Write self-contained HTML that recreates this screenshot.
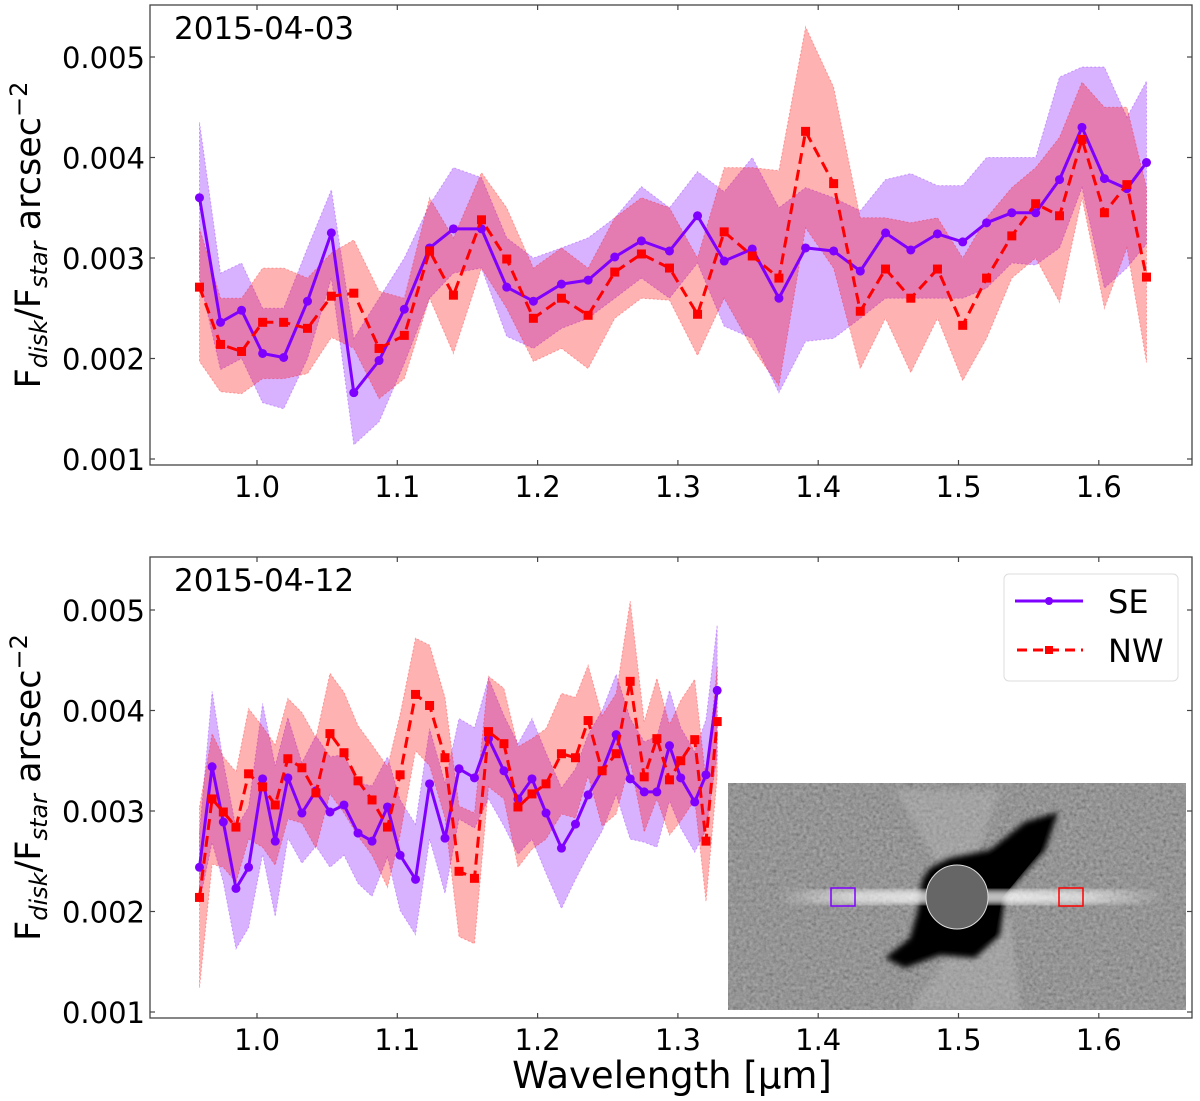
<!DOCTYPE html>
<html><head><meta charset="utf-8"><style>
html,body{margin:0;padding:0;background:#fff;}
svg{display:block;font-family:"DejaVu Sans","Liberation Sans",sans-serif;}
</style></head><body>
<svg id="chart" width="1200" height="1101" viewBox="0 0 1200 1101" xmlns="http://www.w3.org/2000/svg">
<defs>
<filter id="noise" x="0" y="0" width="100%" height="100%">
<feTurbulence type="fractalNoise" baseFrequency="0.3" numOctaves="2" seed="4"/>
<feColorMatrix type="matrix" values="0.33 0.33 0.33 0 0  0.33 0.33 0.33 0 0  0.33 0.33 0.33 0 0  0 0 0 0 0.6"/>
</filter>
<filter id="blur"><feGaussianBlur stdDeviation="3"/></filter>
<linearGradient id="streak" x1="0" x2="1" y1="0" y2="0">
<stop offset="0" stop-color="#fff" stop-opacity="0"/>
<stop offset="0.2" stop-color="#fff" stop-opacity="0.6"/>
<stop offset="0.4" stop-color="#fff" stop-opacity="0.75"/>
<stop offset="0.6" stop-color="#fff" stop-opacity="0.75"/>
<stop offset="0.8" stop-color="#fff" stop-opacity="0.6"/>
<stop offset="1" stop-color="#fff" stop-opacity="0"/>
</linearGradient>
<clipPath id="insetClip"><rect x="728" y="783" width="458" height="227"/></clipPath>
</defs>
<g id="plots"></g>
<g id="inset" clip-path="url(#insetClip)">
<rect x="728" y="783" width="458" height="227" fill="#5a5a5a"/>
<rect x="728" y="783" width="458" height="227" fill="#888" filter="url(#noise)"/>
<polygon points="895,790 1000,790 975,860 935,860" fill="#c0c0c0" opacity="0.35" filter="url(#blur)"/>
<polygon points="965,930 1010,915 1020,1010 910,1010" fill="#c0c0c0" opacity="0.35" filter="url(#blur)"/>
<polygon points="930,868 950,858 990,850 1025,822 1058,812 1045,850 1005,895 1000,935 975,958 940,955 905,968 885,958 910,938 918,910 922,880" fill="#050505" filter="url(#blur)"/>
<polygon points="935,870 990,855 1030,828 1050,820 1040,852 1002,898 995,935 972,952 940,950 912,960 918,935 925,905" fill="#000"/>
<rect x="775" y="890" width="390" height="14" fill="url(#streak)" filter="url(#blur)"/>
<ellipse cx="957" cy="897" rx="31" ry="32" fill="#666" stroke="#ddd" stroke-width="1"/>
<rect x="831" y="888" width="24" height="18" fill="none" stroke="#7f00ff" stroke-width="1.5"/>
<rect x="1059" y="888" width="24" height="18" fill="none" stroke="#ff0000" stroke-width="1.5"/>
</g>
<g id="legend">
<rect x="1004" y="574" width="174" height="107" rx="5" fill="#fff" stroke="#ddd" stroke-width="1"/>
<g>
<line x1="1015" y1="601" x2="1083" y2="601" stroke="#7f00ff" stroke-width="3"/>
<circle cx="1049" cy="601" r="4" fill="#7f00ff"/>
<text x="1108" y="613" font-size="32">SE</text>
</g>
<g>
<line x1="1017" y1="650" x2="1083" y2="650" stroke="#ff0000" stroke-width="3" stroke-dasharray="10,6"/>
<rect x="1045" y="646" width="8" height="8" fill="#ff0000"/>
<text x="1108" y="662" font-size="32">NW</text>
</g>
</g>
<text x="672" y="1088" font-size="37" text-anchor="middle">Wavelength [µm]</text>
</svg>
<script>
// ---- Top panel data (2015-04-03) ----
const topWave = [0.959,0.974,0.989,1.004,1.019,1.036,1.053,1.069,1.087,1.105,1.123,1.140,1.160,1.178,1.197,1.217,1.236,1.255,1.274,1.294,1.314,1.333,1.353,1.372,1.391,1.411,1.430,1.448,1.466,1.485,1.503,1.520,1.538,1.555,1.572,1.588,1.604,1.620,1.634];
const topSE = [3.60,2.36,2.48,2.05,2.01,2.57,3.25,1.66,1.98,2.49,3.10,3.29,3.29,2.71,2.57,2.74,2.78,3.01,3.17,3.07,3.42,2.97,3.09,2.60,3.10,3.07,2.87,3.25,3.08,3.24,3.16,3.35,3.45,3.45,3.78,4.30,3.79,3.69,3.95];
const topSEhi = [4.35,2.85,2.95,2.50,2.50,3.10,3.68,2.20,2.60,3.00,3.53,3.90,3.80,3.20,3.00,3.10,3.20,3.40,3.71,3.50,3.86,3.66,4.00,3.50,3.70,3.60,3.47,3.78,3.84,3.72,3.72,4.00,4.00,4.00,4.80,4.90,4.90,4.40,4.76];
const topSElo = [2.80,1.89,2.00,1.56,1.50,2.00,2.80,1.14,1.37,1.95,2.60,2.85,2.90,2.22,2.10,2.30,2.40,2.60,2.80,2.60,2.95,2.32,2.20,1.66,2.17,2.20,2.40,2.60,2.60,2.60,2.60,2.70,2.95,2.93,3.10,3.70,2.70,2.90,3.14];
const topNW = [2.71,2.14,2.07,2.36,2.36,2.30,2.62,2.65,2.10,2.23,3.07,2.63,3.38,2.99,2.40,2.60,2.43,2.86,3.04,2.90,2.44,3.26,3.02,2.80,4.26,3.74,2.47,2.89,2.60,2.89,2.33,2.80,3.22,3.54,3.42,4.18,3.45,3.73,2.81];
const topNWhi = [3.30,2.60,2.60,2.90,2.90,2.80,3.05,3.18,2.67,2.60,3.60,3.20,3.85,3.50,2.90,3.10,2.90,3.40,3.60,3.50,3.00,3.90,3.90,3.87,5.30,4.70,3.40,3.40,3.35,3.40,3.00,3.40,3.70,3.90,4.20,4.75,4.50,4.50,3.70];
const topNWlo = [1.97,1.67,1.65,1.80,1.80,1.85,2.21,2.10,1.60,1.80,2.60,2.05,2.90,2.50,1.97,2.10,1.90,2.40,2.60,2.58,2.03,2.60,2.10,1.73,3.30,2.90,1.90,2.40,1.86,2.40,1.78,2.20,2.80,3.00,2.56,3.60,2.50,3.10,1.96];
// ---- Bottom panel data (2015-04-12) ----
const botWave = [0.959,0.968,0.976,0.985,0.994,1.004,1.013,1.022,1.032,1.042,1.052,1.062,1.072,1.082,1.093,1.102,1.113,1.123,1.134,1.144,1.155,1.165,1.176,1.186,1.196,1.206,1.217,1.227,1.236,1.246,1.256,1.266,1.276,1.285,1.294,1.302,1.312,1.320,1.328];
const botSE = [2.44,3.44,2.89,2.23,2.44,3.32,2.70,3.33,2.98,3.20,2.99,3.06,2.78,2.70,3.04,2.56,2.32,3.27,2.73,3.42,3.33,3.72,3.40,3.12,3.32,2.98,2.63,2.87,3.16,3.40,3.76,3.32,3.19,3.19,3.65,3.33,3.09,3.36,4.20];
const botSEerr = [0.35,0.75,0.60,0.60,0.60,0.75,0.75,0.60,0.50,0.55,0.55,0.50,0.50,0.55,0.50,0.55,0.55,0.55,0.55,0.50,0.50,0.60,0.55,0.55,0.60,0.60,0.60,0.55,0.60,0.60,0.60,0.60,0.50,0.55,0.55,0.50,0.50,0.55,0.65];
const botNW = [2.14,3.12,2.99,2.84,3.37,3.24,3.06,3.52,3.43,3.18,3.77,3.58,3.30,3.11,2.84,3.36,4.16,4.05,3.53,2.40,2.33,3.79,3.67,3.04,3.17,3.27,3.57,3.53,3.90,3.40,3.57,4.29,3.34,3.72,3.31,3.50,3.71,2.70,3.89];
const botNWerr = [0.90,0.65,0.55,0.55,0.65,0.60,0.60,0.60,0.55,0.55,0.60,0.60,0.55,0.55,0.60,0.60,0.56,0.60,0.60,0.65,0.65,0.55,0.55,0.60,0.55,0.55,0.60,0.60,0.55,0.55,0.60,0.80,0.55,0.60,0.55,0.60,0.60,0.60,0.55];
const xTicks = [1.0,1.1,1.2,1.3,1.4,1.5,1.6];
const xTickLabels = ["1.0","1.1","1.2","1.3","1.4","1.5","1.6"];
const yTicks = [1,2,3,4,5];
const yTickLabels = ["0.001","0.002","0.003","0.004","0.005"];

const NS = "http://www.w3.org/2000/svg";
const root = document.getElementById("plots");
function mk(tag, attrs, parent) {
  const e = document.createElementNS(NS, tag);
  for (const k in attrs) e.setAttribute(k, attrs[k]);
  (parent || root).appendChild(e);
  return e;
}
const xS = l => 257 + (l - 1.0) * 1403;

function panel(cfg) {
  const yS = v => cfg.y1 - (v - 1) * 100.5;
  const g = mk("g", {});
  
  
  function band(w, lo, hi, color, name) {
    let d = "";
    for (let i = 0; i < w.length; i++) d += (i ? "L" : "M") + xS(w[i]).toFixed(1) + "," + yS(hi[i]).toFixed(1);
    for (let i = w.length - 1; i >= 0; i--) d += "L" + xS(w[i]).toFixed(1) + "," + yS(lo[i]).toFixed(1);
    const p = mk("path", {d: d + "Z", fill: color, "fill-opacity": 0.3, stroke: color, "stroke-opacity": 0.3, "stroke-width": 1, "stroke-dasharray": "2,2"}, g);
    
    
  }
  band(cfg.w, cfg.seLo, cfg.seHi, "#7f00ff", "se-error-band");
  band(cfg.w, cfg.nwLo, cfg.nwHi, "#ff0000", "nw-error-band");
  function series(w, v, color, dash, marker, name) {
    const pts = w.map((l, i) => xS(l).toFixed(1) + "," + yS(v[i]).toFixed(1)).join(" ");
    const line = mk("polyline", {points: pts, fill: "none", stroke: color, "stroke-width": 3, "stroke-linejoin": "round"}, g);
    if (dash) line.setAttribute("stroke-dasharray", "11,6");
    
    
    for (let i = 0; i < w.length; i++) {
      const cx = xS(w[i]), cy = yS(v[i]);
      let m;
      if (marker === "circle") m = mk("circle", {cx: cx, cy: cy, r: 4.5, fill: color}, g);
      else m = mk("rect", {x: cx - 4.5, y: cy - 4.5, width: 9, height: 9, fill: color}, g);
      
      
    }
  }
  series(cfg.w, cfg.se, "#7f00ff", false, "circle", "se");
  series(cfg.w, cfg.nw, "#ff0000", true, "square", "nw");
  const fr = mk("rect", {x: 150, y: cfg.top, width: 1042, height: cfg.bot - cfg.top, fill: "none", stroke: "#444", "stroke-width": 1.3}, g);
  
  
  for (let i = 0; i < xTicks.length; i++) {
    const x = xS(xTicks[i]);
    mk("line", {x1: x, y1: cfg.bot, x2: x, y2: cfg.bot - 5, stroke: "#444", "stroke-width": 1.2}, g);
    mk("line", {x1: x, y1: cfg.top, x2: x, y2: cfg.top + 5, stroke: "#444", "stroke-width": 1.2}, g);
    const t = mk("text", {x: x, y: cfg.bot + 32, "font-size": 29, "text-anchor": "middle"}, g);
    t.textContent = xTickLabels[i];
    
    
  }
  for (let i = 0; i < yTicks.length; i++) {
    const y = yS(yTicks[i]);
    mk("line", {x1: 150, y1: y, x2: 155, y2: y, stroke: "#444", "stroke-width": 1.2}, g);
    mk("line", {x1: 1192, y1: y, x2: 1187, y2: y, stroke: "#444", "stroke-width": 1.2}, g);
    const t = mk("text", {x: 145, y: y + 11, "font-size": 29, "text-anchor": "end"}, g);
    t.textContent = yTickLabels[i];
    
    
  }
  const d = mk("text", {x: 174, y: cfg.top + 34, "font-size": 31}, g);
  d.textContent = cfg.date;
  
  
  const yl = mk("text", {x: 0, y: 0, "font-size": 35, "text-anchor": "middle", transform: "translate(40," + ((cfg.top + cfg.bot) / 2) + ") rotate(-90)"}, g);
  yl.innerHTML = 'F<tspan font-size="24" dy="7" font-style="italic">disk</tspan><tspan dy="-7">/F</tspan><tspan font-size="24" dy="7" font-style="italic">star</tspan><tspan dy="-7"> arcsec</tspan><tspan font-size="24" dy="-13">−2</tspan>';
  
  
}
panel({name: "panel-2015-04-03", top: 5, bot: 465, y1: 459, date: "2015-04-03", w: topWave,
  se: topSE, seHi: topSEhi, seLo: topSElo, nw: topNW, nwHi: topNWhi, nwLo: topNWlo});
panel({name: "panel-2015-04-12", top: 557, bot: 1018, y1: 1012, date: "2015-04-12", w: botWave,
  se: botSE, seHi: botSE.map((v, i) => v + botSEerr[i]), seLo: botSE.map((v, i) => v - botSEerr[i]),
  nw: botNW, nwHi: botNW.map((v, i) => v + botNWerr[i]), nwLo: botNW.map((v, i) => v - botNWerr[i])});
const svg = document.getElementById("chart");
svg.appendChild(document.getElementById("inset"));
svg.appendChild(document.getElementById("legend"));
</script>
</body></html>
